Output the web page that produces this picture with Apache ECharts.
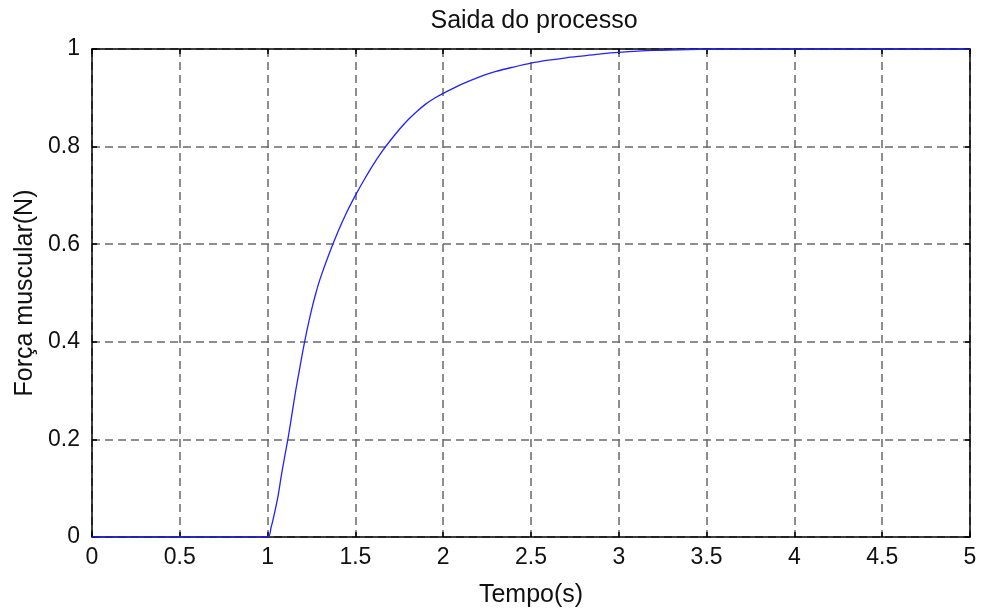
<!DOCTYPE html>
<html>
<head>
<meta charset="utf-8">
<script src="https://cdn.jsdelivr.net/npm/echarts@6/dist/echarts.min.js"></script>
<style>
  html, body { margin: 0; padding: 0; background: #fff; }
  #chart { width: 983px; height: 613px; }
</style>
</head>
<body>
<div id="chart"></div>
<script>
// Step response of the muscle force model
const titleText = 'Saida do processo';
const xName = 'Tempo(s)';
const yName = 'Força muscular(N)';

const time  = [0, 1.00, 1.02, 1.04, 1.06, 1.08, 1.10, 1.12, 1.14, 1.16, 1.18, 1.20, 1.225, 1.25, 1.275, 1.30,
               1.35, 1.40, 1.45, 1.50, 1.55, 1.60, 1.65, 1.70, 1.75, 1.80, 1.85, 1.90, 1.95, 2.00,
               2.10, 2.20, 2.30, 2.40, 2.50, 2.60, 2.70, 2.80, 2.90, 3.00, 3.20, 3.40, 3.60, 5.00];
const force = [0, 0, 0.02, 0.05, 0.085, 0.13, 0.17, 0.21, 0.255, 0.30, 0.34, 0.38, 0.425, 0.465, 0.50, 0.53,
               0.58, 0.625, 0.665, 0.70, 0.732, 0.762, 0.789, 0.813, 0.835, 0.855, 0.872, 0.887, 0.899, 0.909,
               0.927, 0.942, 0.954, 0.963, 0.971, 0.977, 0.982, 0.986, 0.990, 0.993, 0.997, 0.999, 1.0, 1.0];

const xTicks = { min: 0, max: 5, interval: 0.5 };
const yTicks = { min: 0, max: 1, interval: 0.2 };

const fontFamily = '"Liberation Sans", Arial, sans-serif';
const gridLine = { show: true, lineStyle: { color: '#6a6a6a', width: 1.5, type: [8, 5] } };
const axisLine = { show: true, onZero: false, lineStyle: { color: '#000', width: 1.5 } };
const axisTick = { show: true, inside: true, length: 5, lineStyle: { color: '#000', width: 1.5 } };

const chart = echarts.init(document.getElementById('chart'), null, { renderer: 'canvas' });
chart.setOption({
  backgroundColor: '#fff',
  animation: false,
  title: {
    text: titleText,
    left: 529, top: 4, textAlign: 'center',
    textStyle: { fontFamily, fontSize: 25, fontWeight: 'normal', color: '#111' }
  },
  grid: { left: 92, right: 13, top: 49, bottom: 73 },
  xAxis: [{
    type: 'value', position: 'bottom',
    min: xTicks.min, max: xTicks.max, interval: xTicks.interval,
    name: xName, nameLocation: 'middle', nameGap: 46,
    nameTextStyle: { fontFamily, fontSize: 25, color: '#111' },
    axisLine, axisTick, splitLine: gridLine,
    axisLabel: { fontFamily, fontSize: 23, color: '#111', margin: 9 }
  }, {
    type: 'value', position: 'top',
    min: xTicks.min, max: xTicks.max, interval: xTicks.interval,
    axisLine, axisTick, splitLine: { show: false }, axisLabel: { show: false }
  }],
  yAxis: [{
    type: 'value', position: 'left',
    min: yTicks.min, max: yTicks.max, interval: yTicks.interval,
    name: yName, nameLocation: 'middle', nameGap: 54, nameRotate: 90,
    nameTextStyle: { fontFamily, fontSize: 25, color: '#111' },
    axisLine, axisTick, splitLine: gridLine,
    axisLabel: { fontFamily, fontSize: 23, color: '#111', margin: 12 }
  }, {
    type: 'value', position: 'right',
    min: yTicks.min, max: yTicks.max, interval: yTicks.interval,
    axisLine, axisTick, splitLine: { show: false }, axisLabel: { show: false }
  }],
  series: [{
    type: 'line',
    data: time.map((t, i) => [t, force[i]]),
    showSymbol: false,
    smooth: 0.3,
    lineStyle: { color: '#2222ff', width: 1.3 },
    z: 5
  }]
});
</script>
</body>
</html>
